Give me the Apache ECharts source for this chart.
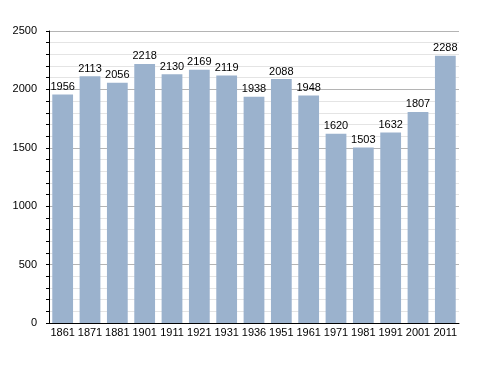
<!DOCTYPE html>
<html><head><meta charset="utf-8">
<script src="https://cdn.jsdelivr.net/npm/echarts@6/dist/echarts.min.js"></script>
<style>html,body{margin:0;padding:0;background:#fff}#c{width:488px;height:373px}</style>
</head><body><div id="c"></div>
<script>
const years = ['1861','1871','1881','1901','1911','1921','1931','1936','1951','1961','1971','1981','1991','2001','2011'];
const population = [1956,2113,2056,2218,2130,2169,2119,1938,2088,1948,1620,1503,1632,1807,2288];
const yTicks = [0,500,1000,1500,2000,2500];
const chart = echarts.init(document.getElementById('c'));
const font = 'Liberation Sans, Arial, sans-serif';
chart.setOption({
  animation:false,
  grid:{left:49,right:29,top:31,bottom:50},
  xAxis:{type:'category',data:years,
    axisLine:{lineStyle:{color:'#000',width:1}},
    axisTick:{show:false},
    axisLabel:{color:'#000',fontFamily:font,fontSize:11,margin:4,interval:0}},
  yAxis:{type:'value',min:yTicks[0],max:yTicks[yTicks.length-1],interval:500,
    axisLine:{show:true,lineStyle:{color:'#000',width:1}},
    axisTick:{show:true,length:3,lineStyle:{color:'#000'}},
    minorTick:{show:true,splitNumber:5,length:3,lineStyle:{color:'#000'}},
    splitLine:{lineStyle:{color:'#b4b4b4',width:1}},
    minorSplitLine:{show:true,lineStyle:{color:'#e4e4e4',width:1}},
    axisLabel:{color:'#000',fontFamily:font,fontSize:11,margin:12,formatter:v=>String(v)}},
  series:[{type:'bar',data:population,barCategoryGap:'24%',
    itemStyle:{color:'#9bb2cd'},
    label:{show:true,position:'top',distance:2,color:'#000',fontFamily:font,fontSize:11}}]
});
</script></body></html>
